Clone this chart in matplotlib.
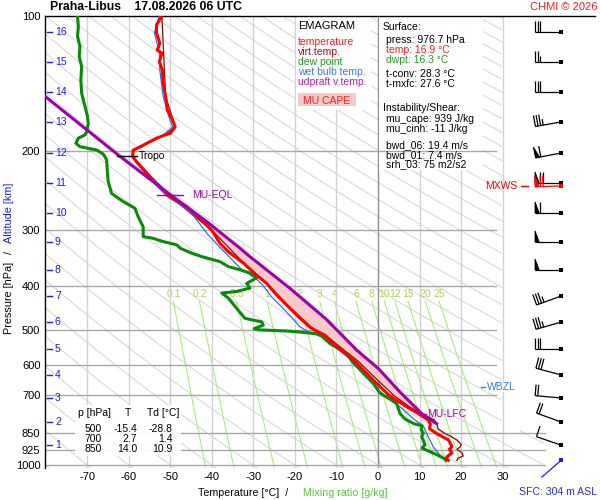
import numpy as np
import matplotlib
matplotlib.use('Agg')
import matplotlib.pyplot as plt
from matplotlib.patches import Rectangle, Polygon
from matplotlib.ticker import NullLocator, NullFormatter
from matplotlib.transforms import Affine2D, ScaledTranslation

plt.rcParams['font.family'] = ['Liberation Sans', 'DejaVu Sans']

# ---------------- data ----------------
station = "Praha-Libus"
run_time = "17.08.2026 06 UTC"

p_ticks = [100, 200, 300, 400, 500, 600, 700, 850, 925, 1000]
t_ticks = [-70, -60, -50, -40, -30, -20, -10, 0, 10, 20, 30]

alt_km = [16, 15, 14, 13, 12, 11, 10, 9, 8, 7, 6, 5, 4, 3, 2, 1]
alt_p = [108.5, 126.6, 147.6, 172.2, 201.9, 235.5, 274.6, 318.6, 367.9,
         420.5, 480.6, 551, 630, 709, 802, 903]

temp_p = [100, 104.7, 109, 115, 119, 121, 126.4, 132, 141, 151, 162, 169, 176.5,
          182.6, 184, 187, 192, 195, 199, 205.7, 211, 232, 252.6, 266, 280, 300,
          321, 335, 355, 378, 394, 418, 440, 467, 492, 500, 513, 536, 588, 625,
          675, 700, 742, 768, 794, 810, 830, 850, 862, 880, 911, 922, 940, 955,
          966, 976.7]
temp_t = [-52.0, -53.3, -53.3, -52.5, -53.1, -52.0, -52.6, -51.9, -51.7, -51.1,
          -50.7, -49.6, -48.8, -50.0, -51.2, -53.2, -55.6, -56.9, -58.9, -59.0,
          -58.1, -54.1, -50.0, -46.0, -43.3, -40.0, -38.0, -36.0, -32.4, -29.2,
          -26.8, -24.4, -22.0, -19.2, -16.5, -15.4, -13.0, -10.8, -5.5, -2.7,
          0.9, 2.7, 6.9, 9.7, 12.1, 12.6, 12.4, 14.0, 15.2, 17.0, 17.8, 17.2,
          17.8, 16.8, 16.4, 16.9]

tv_p = [100, 151, 176.5, 184, 199, 205.7, 211, 252.6, 300, 355, 394, 440, 492,
        500, 513, 536, 588, 625, 675, 700, 742, 768, 794, 810, 830, 850, 862,
        880, 900, 911, 922, 940, 955, 966, 976.7]
tv_t = [-52.0, -51.1, -48.8, -51.2, -58.9, -59.0, -58.1, -50.0, -40.0, -32.3,
        -26.7, -21.8, -16.2, -15.1, -12.6, -10.2, -4.7, -1.8, 2.0, 3.8, 7.6,
        10.3, 13.6, 14.2, 14.4, 16.0, 17.4, 19.0, 20.0, 19.8, 19.0, 20.2, 20.5,
        19.2, 19.0]

dew_p = [100, 105.6, 111, 117, 123, 129.7, 138.8, 148.7, 159, 167.6, 173.5, 181,
         184, 187, 192, 195.5, 198.8, 203, 209, 224, 234, 248.4, 259, 268, 280,
         295, 310, 312.7, 318, 323.5, 329, 337.6, 343.5, 352.5, 361.5, 367.5,
         373.7, 383, 394, 403.6, 410.6, 414, 425, 448, 471.5, 480, 488, 497, 500,
         503, 506, 510, 516, 536, 564, 588, 625, 660, 688, 700, 710, 729, 745,
         768, 790, 808, 818, 835, 850, 865, 885, 901, 917, 925, 934, 952, 966,
         976.7]
dew_t = [-72.3, -72.1, -72.3, -71.7, -71.9, -71.3, -71.5, -71.3, -70.5, -69.9,
         -69.7, -70.1, -70.5, -72.1, -72.7, -71.7, -67.7, -66.1, -65.3, -65.1,
         -64.9, -64.1, -61.3, -58.5, -57.7, -56.5, -56.5, -54.1, -51.7, -48.4,
         -47.6, -44.8, -42.4, -38.0, -36.0, -33.2, -30.8, -29.2, -31.6, -30.8,
         -34.0, -37.6, -36.0, -34.0, -32.0, -28.0, -27.6, -29.8, -28.8, -22.0,
         -18.5, -15.0, -13.6, -11.6, -7.6, -6.2, -3.5, -1.0, 0.3, 1.4, 2.6, 4.5,
         4.8, 5.3, 6.5, 8.5, 10.5, 10.4, 10.9, 10.5, 11.0, 11.3, 10.6, 11.5,
         12.5, 14.5, 15.8, 16.3]

wb_p = [100, 109, 121, 132, 151, 169, 176.5, 184, 192, 199, 205.7, 211, 232,
        252.6, 266, 280, 307, 338, 367, 383, 397, 422, 444, 471, 492, 505, 513,
        536, 588, 625, 688, 742, 794, 818, 865, 911, 952, 976.7]
wb_t = [-52.6, -53.8, -52.6, -52.5, -51.7, -50.2, -49.4, -51.6, -55.9, -59.1,
        -59.2, -58.4, -54.6, -50.7, -46.8, -44.2, -40.9, -36.6, -32.8, -29.6,
        -27.8, -25.6, -23.2, -20.6, -18.8, -16.8, -13.6, -11.4, -6.0, -3.2, 0.3,
        5.3, 8.9, 10.9, 12.1, 13.3, 14.9, 16.5]

parcel_p = [140, 151, 204, 250, 287, 329, 343.6, 404, 473, 555, 610, 688, 768, 809]
parcel_t = [-84.3, -80.1, -62.5, -50.0, -41.2, -33.2, -30.8, -21.2, -12.5, -5.1,
            0.1, 5.3, 10.5, 14.1]

tropo_p = 205
eql_p = 250
lfc_p = 770
wbzl_p = 669
mxws_p = 239

mix_w = [0.1, 0.2, 0.5, 1, 2, 3, 4, 6, 8, 10, 12, 15, 20, 25]
mix_lbl = ["0.1", "0.2", "0.5", "1", "2", "3", "4", "6", "8", "10", "12", "15", "20", "25"]
theta_c = list(range(-80, 330, 10))

barb_dir = [270, 270, 270, 260, 259, 270, 270, 270, 270, 250, 254, 270, 285, 275, 290, 289]
barb_kt = [30, 25, 30, 35, 60, 70, 60, 50, 50, 35, 35, 30, 30, 20, 20, 10]
mxws_dir, mxws_kt = 268, 70
sfc_p, sfc_dir, sfc_kt = 976.7, 229, 0

tab_p = [500, 700, 850]
tab_t = [-15.4, 2.7, 14.0]
tab_td = [-28.8, 1.4, 10.9]

surface_lines = [("Surface:", 'k', 0), ("press: 976.7 hPa", 'k', 1),
                 ("temp: 16.9 °C", '#ff1a1a', 1), ("dwpt: 16.3 °C", '#20a020', 1),
                 ("t-conv: 28.3 °C", 'k', 1), ("t-mxfc: 27.6 °C", 'k', 1),
                 ("Instability/Shear:", 'k', 0), ("mu_cape: 939 J/kg", 'k', 1),
                 ("mu_cinh: -11 J/kg", 'k', 1), ("bwd_06: 19.4 m/s", 'k', 1),
                 ("bwd_01: 7.4 m/s", 'k', 1), ("srh_03: 75 m2/s2", 'k', 1)]
surface_y = [27.5, 40, 50, 60, 74, 84, 108, 119.5, 129.5, 145, 155, 164.5]

legend_items = [("temperature", '#ff1a1a'), ("virt.temp.", '#a01010'),
                ("dew point", '#1f9f1f'), ("wet bulb temp.", '#3a78e8'),
                ("udpraft v.temp.", '#b020c0')]

# ---------------- figure ----------------
W, H = 600, 500
fig = plt.figure(figsize=(6, 5), dpi=100)
fig.patch.set_facecolor('white')

def fx(px):
    return px / W

def fy(py):
    return 1 - py / H

AX_L, AX_R, AX_T, AX_B = 45, 595, 16, 468
ax = fig.add_axes([fx(AX_L), fy(AX_B), (AX_R - AX_L) / W, (AX_B - AX_T) / H])
ax.set_facecolor('white')
ax.set_yscale('log')
PBOT = 100 * np.exp((AX_B - 16) / 195.0)
ax.set_ylim(PBOT, 100)
XPX = 4.156  # px per degC, 0 degC at x=378
def tx(px):
    return (px - 378) / XPX
def py_(ypx):
    return 100 * np.exp((ypx - 16) / 195.0)
ax.set_xlim(tx(AX_L), tx(AX_R))

ax.set_yticks(p_ticks)
ax.set_yticklabels([str(p) for p in p_ticks], fontsize=8)
ax.yaxis.set_minor_locator(NullLocator())
ax.yaxis.set_minor_formatter(NullFormatter())
ax.set_xticks(t_ticks)
ax.set_xticklabels([str(t) for t in t_ticks], fontsize=8)
ax.tick_params(axis='both', length=0)
ax.tick_params(axis='y', pad=3.3)
ax.tick_params(axis='x', pad=3.0)
for s in ['right', 'bottom']:
    ax.spines[s].set_visible(False)
for s in ['top', 'left']:
    ax.spines[s].set_color('black')
    ax.spines[s].set_linewidth(1.0)

# dry adiabats
pg = np.geomspace(100, 1030, 400)
for th in theta_c:
    T = (th + 273.15) * (pg / 1000.0) ** 0.2857 - 273.15
    lim = np.where(pg < 835, 30.0, 40.0)
    T = np.where(T <= lim, T, np.nan)
    ax.plot(T, pg, color='#d9d9d9', lw=0.8, zorder=1)

# mixing ratio lines
pm = np.geomspace(432, 1030, 80)
for w, lb in zip(mix_w, mix_lbl):
    e = w * pm / (622.0 + w)
    a = np.log(e / 6.112)
    T = 243.5 * a / (17.67 - a)
    ax.plot(T, pm, color='#a6ee80', lw=0.8, zorder=1.2)
    e0 = w * 432 / (622.0 + w)
    a0 = np.log(e0 / 6.112)
    ax.text(243.5 * a0 / (17.67 - a0), py_(294), lb, color='#afd650',
            fontsize=7.5, ha='center', va='center', zorder=1.3)

# isotherms
for t in t_ticks:
    ax.axvline(t, color='#909090' if t == 0 else '#d2d2d2', lw=1.0, zorder=1.4)

# boxes (legend, surface info)
def box(x0, y0, x1, y1, z, fc='white', alpha=1.0):
    r = Rectangle((fx(x0), fy(y1)), (x1 - x0) / W, (y1 - y0) / H,
                  transform=fig.transFigure, facecolor=fc, edgecolor='none',
                  alpha=alpha, zorder=z, clip_on=False)
    ax.add_patch(r)

box(296, 16.5, 371, 110, 1.8)
box(379, 16.5, 483, 170, 1.8)

# isobars
for p in p_ticks[1:]:
    xr = tx(545) if p >= 850 else tx(496)
    ax.plot([tx(AX_L), xr], [p, p], color='#a8a8a8', lw=1.0, zorder=2.2)

box(75, 405, 181, 456, 2.5, alpha=0.92)

# CAPE fill
pp = np.geomspace(eql_p, lfc_p, 300)
par_i = np.interp(np.log(pp), np.log(parcel_p), parcel_t)
tv_i = np.interp(np.log(pp), np.log(tv_p), tv_t)
ax.fill_betweenx(pp, tv_i, par_i, where=par_i > tv_i, color='#f7caca',
                 lw=0, zorder=3, interpolate=True)

# profiles
ax.plot(tv_t, tv_p, color='#9a0000', lw=0.9, zorder=4)
ax.plot(wb_t, wb_p, color='#2f6fe8', lw=0.9, zorder=5)
ax.plot(dew_t, dew_p, color='#0a8a0a', lw=2.2, zorder=5.5)
ax.plot(temp_t, temp_p, color='#ff0000', lw=2.2, zorder=6)
ax.plot(parcel_t, parcel_p, color='#a000a8', lw=2.2, zorder=6.5)

# level markers
ax.plot([tx(117), tx(137)], [tropo_p, tropo_p], color='k', lw=1.0, zorder=7)
ax.text(tx(139), tropo_p, "Tropo", fontsize=7.5, va='center', ha='left', zorder=7)
ax.plot([tx(157), tx(183)], [eql_p, eql_p], color='#a000a8', lw=1.0, zorder=7)
ax.text(tx(192), eql_p, "MU-EQL", fontsize=7.5, color='#a000a8', va='center', zorder=7)
ax.plot([tx(420), tx(426)], [lfc_p, lfc_p], color='#a000a8', lw=1.0, zorder=7)
ax.text(tx(427), lfc_p, "MU-LFC", fontsize=7.5, color='#a000a8', va='center', zorder=7)
ax.plot([tx(481), tx(486)], [wbzl_p, wbzl_p], color='#3a78e8', lw=1.0, zorder=7)
ax.text(tx(487), wbzl_p, "WBZL", fontsize=7.5, color='#3a78e8', va='center', zorder=7,
        bbox=dict(facecolor='white', edgecolor='none', pad=0.6))

# altitude labels
for km, p in zip(alt_km, alt_p):
    ax.plot([tx(47), tx(52.5)], [p, p], color='#1a1aff', lw=1.0, zorder=7, clip_on=False)
    ax.text(tx(55), p, str(km), color='#1a1aff', fontsize=7.5, va='center',
            ha='left', zorder=7)

# wind barbs (perpendicular feathers, drawn in point offsets from the station)
st_T = tx(561)
STAFF, FEATH, SPACE, FLAGW = 18.7, 8.0, 1.9, 3.0   # points

def draw_barb(T, p, ddeg, spd, color, z=8):
    tr = Affine2D().scale(fig.dpi / 72.0) + ScaledTranslation(T, p, ax.transData)
    r = np.deg2rad(ddeg)
    d = np.array([np.sin(r), np.cos(r)])
    n = np.array([d[1], -d[0]])
    kw = dict(transform=tr, color=color, lw=0.9, zorder=z, clip_on=False,
              solid_capstyle='butt')
    tip = STAFF * d
    ax.plot([0, tip[0]], [0, tip[1]], **kw)
    nflag = int(spd // 50)
    rem = spd - 50 * nflag
    nfull = int(rem // 10)
    half = (rem - 10 * nfull) >= 5
    pos = STAFF
    for _ in range(nflag):
        a = pos * d
        b = (pos - FLAGW) * d
        c = pos * d + FEATH * n
        ax.add_patch(Polygon([a, c, b], closed=True, transform=tr, facecolor=color,
                             edgecolor=color, lw=0.6, zorder=z, clip_on=False))
        pos -= FLAGW + 0.9
    for _ in range(nfull):
        a = pos * d
        ax.plot([a[0], a[0] + FEATH * n[0]], [a[1], a[1] + FEATH * n[1]], **kw)
        pos -= SPACE
    if half:
        a = pos * d
        ax.plot([a[0], a[0] + 0.55 * FEATH * n[0]], [a[1], a[1] + 0.55 * FEATH * n[1]], **kw)
    ax.plot([T], [p], 's', ms=2.4, color=color, mew=0, zorder=z + 0.5, clip_on=False)

for p, dd, s in zip(alt_p, barb_dir, barb_kt):
    draw_barb(st_T, p, dd, s, 'k')
draw_barb(st_T, mxws_p, mxws_dir, mxws_kt, '#ff0000', z=8.6)
draw_barb(st_T, sfc_p, sfc_dir, sfc_kt, '#1a1aff')
ax.plot([tx(521), tx(528)], [mxws_p, mxws_p], color='#ff0000', lw=1.0, zorder=8, clip_on=False)
ax.text(tx(517), mxws_p, "MXWS", color='#ff0000', fontsize=7.5, ha='right', va='center')

# ---------------- texts ----------------
def ftext(x, y, s, **kw):
    kw.setdefault('va', 'center')
    return fig.text(fx(x), fy(y), s, **kw)

ftext(50, 7, f"{station}    {run_time}", fontsize=8.8, fontweight='bold')
ftext(597, 7, "CHMI © 2026", fontsize=8, color='#ff1a1a', ha='right')
ftext(597, 492, "SFC: 304 m ASL", fontsize=7.6, color='#2a2ae0', ha='right')
ftext(198, 493, "Temperature [°C]  /", fontsize=7.7)
ftext(303, 493, "Mixing ratio [g/kg]", fontsize=7.7, color='#5cc83c')
ftext(9, 298, "Pressure [hPa]", fontsize=7.8, rotation=90, ha='center')
ftext(9, 253, "/", fontsize=7.8, rotation=90, ha='center')
ftext(9, 213, "Altitude [km]", fontsize=7.8, rotation=90, ha='center', color='#1a1aff')

# legend box content
ftext(298, 26, "EMAGRAM", fontsize=8)
for (s, c), y in zip(legend_items, [42, 52, 62, 71.7, 81.7]):
    ftext(298, y, s, fontsize=7.5, color=c)
fig.patches.append(Rectangle((fx(298), fy(106)), 58 / W, 13 / H, transform=fig.transFigure,
                             facecolor='#f7caca', edgecolor='none', zorder=2))
ftext(303, 100.5, "MU CAPE", fontsize=7.5, color='#ff1a1a')

# surface box content
for (s, c, ind), y in zip(surface_lines, surface_y):
    ftext(382.5 + 3.5 * ind, y, s, fontsize=7.5, color=c)

# table
ftext(78, 413, "p [hPa]", fontsize=7.5)
ftext(127.5, 413, "T", fontsize=7.5, ha='center')
ftext(147, 413, "Td [°C]", fontsize=7.5)
for (p, t, td), y in zip(zip(tab_p, tab_t, tab_td), [429, 439, 449]):
    ftext(102, y, f"{p}", fontsize=7.5, ha='right')
    ftext(137, y, f"{t:.1f}", fontsize=7.5, ha='right')
    ftext(173, y, f"{td:.1f}", fontsize=7.5, ha='right')

fig.savefig('out.png', dpi=100)
